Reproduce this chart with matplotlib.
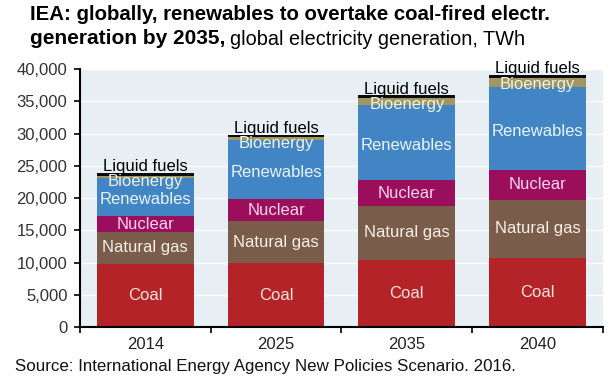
import numpy as np
import matplotlib
matplotlib.use('Agg')
import matplotlib.pyplot as plt

plt.rcParams['font.family'] = ['Liberation Sans', 'DejaVu Sans']

# data (TWh)
years = ['2014', '2025', '2035', '2040']
coal = [9800, 9900, 10400, 10700]
gas = [4900, 6550, 8350, 9000]
nuclear = [2500, 3350, 4050, 4650]
renewables = [5900, 9200, 11600, 12900]
bioenergy = [350, 400, 1100, 1400]
liquid = [450, 420, 420, 420]

names = ['Coal', 'Natural gas', 'Nuclear', 'Renewables', 'Bioenergy', 'Liquid fuels']
series = [coal, gas, nuclear, renewables, bioenergy, liquid]
colors = ['#B32327', '#7A5C4B', '#9A0E5C', '#4285C4', '#9E9763', '#0A0A0A']
txt_colors = ['#FBE3DF', '#F6EFE6', '#FAD4F2', '#EAF4FF', '#F3F1E2', 'black']

fig = plt.figure(figsize=(6.10, 3.81), dpi=100)
ax = fig.add_axes([0.131, 0.1417, 0.8575, 0.6772])
ax.set_facecolor('#E7EEF4')

x = np.arange(len(years))
bottom = np.zeros(len(years))
for vals, c in zip(series, colors):
    ax.bar(x, vals, 0.74, bottom=bottom, color=c, zorder=2)
    bottom += np.array(vals)
total = bottom

fs = 12
# segment labels
base = np.zeros(len(years))
for name, vals, tc in zip(names, series, txt_colors):
    vals = np.array(vals)
    for j in range(len(years)):
        if name == 'Liquid fuels':
            ax.annotate(name, (x[j], total[j]), xytext=(0, -1), textcoords='offset points',
                        ha='center', va='bottom', fontsize=fs, color=tc,
                        annotation_clip=False, zorder=3)
        elif name == 'Bioenergy':
            ax.annotate(name, (x[j], total[j]), xytext=(0, -6.5), textcoords='offset points',
                        ha='center', va='center', fontsize=fs, color=tc, zorder=3)
        elif name == 'Renewables':
            ax.annotate(name, (x[j], base[j] + vals[j] / 2), xytext=(0, -2),
                        textcoords='offset points', ha='center', va='center',
                        fontsize=fs, color=tc, zorder=3)
        else:
            ax.text(x[j], base[j] + vals[j] / 2, name, ha='center', va='center',
                    fontsize=fs, color=tc, zorder=3)
    base += vals

ax.set_ylim(0, 40000)
ax.set_xlim(-0.5, len(years) - 0.5)
ax.set_yticks(np.arange(0, 40001, 5000))
ax.set_yticklabels(['{:,}'.format(v) for v in range(0, 40001, 5000)])
ax.yaxis.grid(True, color='white', linewidth=1.0, zorder=1)
ax.set_axisbelow(True)

ax.set_xticks(x)
ax.set_xticklabels(years)
ax.set_xticks(np.arange(-0.5, len(years), 1.0), minor=True)
ax.tick_params(axis='x', which='major', length=0, pad=7, labelsize=12, labelcolor='#222222')
ax.tick_params(axis='x', which='minor', length=4, width=1.2, direction='out')
ax.tick_params(axis='y', length=4, width=1.2, direction='out', labelsize=12,
               labelcolor='#333333', pad=5)

for s in ['top', 'right']:
    ax.spines[s].set_visible(False)
for s in ['left', 'bottom']:
    ax.spines[s].set_linewidth(1.5)
    ax.spines[s].set_color('black')

fig.text(0.049, 0.963, 'IEA: globally, renewables to overtake coal-fired electr.',
         fontsize=14.7, fontweight='bold', ha='left', va='center')
t = fig.text(0.049, 0.90, 'generation by 2035,', fontsize=15, fontweight='bold',
             ha='left', va='center')
fig.canvas.draw()
bb = t.get_window_extent()
fig.text((bb.x1 + 5) / fig.bbox.width, 0.897, 'global electricity generation, TWh',
         fontsize=14.3, ha='left', va='center')

fig.text(0.025, 0.037, 'Source: International Energy Agency New Policies Scenario. 2016.',
         fontsize=12.2, ha='left', va='center', color='#111111')

fig.savefig('out.png', dpi=100)
